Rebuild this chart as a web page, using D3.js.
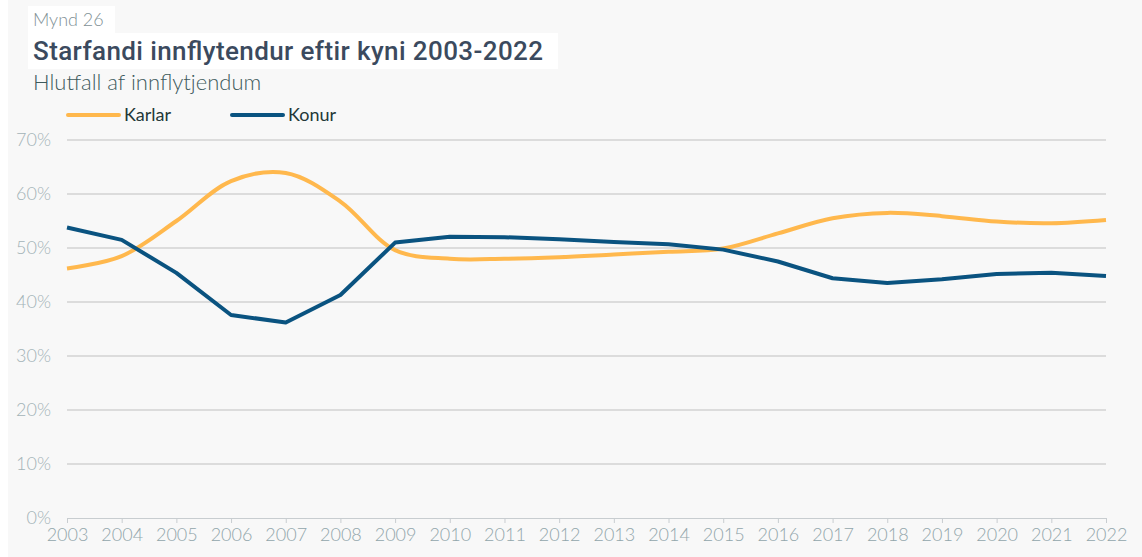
<!DOCTYPE html>
<html>
<head>
<meta charset="utf-8">
<script src="https://cdn.jsdelivr.net/npm/d3@7"></script>
<style>
  body { margin: 0; background: #f8f8f8; }
  svg { display: block; }
</style>
</head>
<body>
<svg id="chart"></svg>
<script>
// gögn lesin af myndinni
const years = [2003, 2004, 2005, 2006, 2007, 2008, 2009, 2010, 2011, 2012,
               2013, 2014, 2015, 2016, 2017, 2018, 2019, 2020, 2021, 2022];
const karlar = [46.2, 48.5, 55.0, 62.4, 63.9, 58.6, 49.6, 48.0, 48.0, 48.3,
                48.8, 49.3, 49.9, 52.7, 55.5, 56.5, 55.9, 54.9, 54.6, 55.2];
const konur = [53.8, 51.5, 45.4, 37.6, 36.2, 41.3, 51.0, 52.1, 52.0, 51.6,
               51.1, 50.7, 49.7, 47.5, 44.4, 43.5, 44.2, 45.2, 45.4, 44.8];
const yTicks = [0, 10, 20, 30, 40, 50, 60, 70];

const W = 1142, H = 557;
const margin = {top: 140, right: 36, bottom: 39, left: 67};
const width = W - margin.left - margin.right,
      height = H - margin.top - margin.bottom;

const root = d3.select("#chart").attr("width", W).attr("height", H);

// ljós bakgrunnur og hvítir reitir bak við titla
root.append("rect").attr("x", 0).attr("y", 0).attr("width", 8).attr("height", H).attr("fill", "#fff");
root.append("rect").attr("x", 28).attr("y", 6).attr("width", 87).attr("height", 27).attr("fill", "#fff");
root.append("rect").attr("x", 28).attr("y", 33).attr("width", 530).attr("height", 36).attr("fill", "#fff");

root.append("text").attr("x", 33).attr("y", 26)
    .style("font-family", "Lato").style("font-weight", 300).style("font-size", "18px")
    .attr("fill", "#7f9196").text("Mynd 26");
root.append("text").attr("x", 33).attr("y", 60)
    .style("font-family", "Roboto").style("font-weight", 500).style("font-size", "26px")
    .attr("textLength", 510).attr("lengthAdjust", "spacing")
    .attr("fill", "#3b4a5e").text("Starfandi innflytendur eftir kyni 2003-2022");
root.append("text").attr("x", 33).attr("y", 90)
    .style("font-family", "Lato").style("font-weight", 300).style("font-size", "22px")
    .attr("fill", "#3e5a5c").text("Hlutfall af innflytjendum");

const svg = root.append("g").attr("transform", `translate(${margin.left},${margin.top})`);

const x = d3.scaleLinear().domain([2003, 2022]).range([0, width]);
const y = d3.scaleLinear().domain([0, 70]).range([height, 0]);

// gridlínur
svg.append("g")
    .selectAll("line")
    .data(yTicks.filter(d => d > 0))
    .join("line")
      .attr("x1", 0).attr("x2", width)
      .attr("y1", d => y(d)).attr("y2", d => y(d))
      .attr("stroke", "#dcdcdc").attr("stroke-width", 2);

const yAxis = svg.append("g")
    .call(d3.axisLeft(y).tickValues(yTicks).tickSize(0).tickPadding(16).tickFormat(d => d + "%"));
yAxis.select(".domain").remove();
yAxis.selectAll("text")
    .style("font-family", "Lato").style("font-weight", 300).style("font-size", "18px")
    .attr("fill", "#a3b3b7");

const xAxis = svg.append("g")
    .attr("transform", `translate(0,${height})`)
    .call(d3.axisBottom(x).tickValues(years).tickFormat(d3.format("d")).tickSize(5).tickPadding(5));
xAxis.select(".domain").attr("stroke", "#c8cdd0");
xAxis.selectAll(".tick line").attr("stroke", "#c8cdd0");
xAxis.selectAll("text")
    .style("font-family", "Lato").style("font-weight", 300).style("font-size", "18px")
    .attr("fill", "#92a6ab");

const lineSmooth = d3.line()
    .x((d, i) => x(years[i]))
    .y(d => y(d))
    .curve(d3.curveCatmullRom.alpha(0.5));

const lineStraight = d3.line()
    .x((d, i) => x(years[i]))
    .y(d => y(d));

svg.append("path").datum(karlar)
    .attr("d", lineSmooth)
    .attr("fill", "none").attr("stroke", "#ffb84d").attr("stroke-width", 4);

svg.append("path").datum(konur)
    .attr("d", lineStraight)
    .attr("fill", "none").attr("stroke", "#0a5380").attr("stroke-width", 4)
    .attr("stroke-linejoin", "round");

// skýringar
const legend = [
  {name: "Karlar", color: "#ffb84d", x: 68},
  {name: "Konur", color: "#0a5380", x: 232}
];
const lg = root.append("g").selectAll("g").data(legend).join("g")
    .attr("transform", d => `translate(${d.x},115)`);
lg.append("line").attr("x1", 0).attr("x2", 51).attr("y1", 0).attr("y2", 0)
    .attr("stroke", d => d.color).attr("stroke-width", 4).attr("stroke-linecap", "round");
lg.append("text").attr("x", 56).attr("y", 6)
    .style("font-family", "Lato").style("font-size", "18px")
    .attr("fill", "#243838").text(d => d.name);
</script>
</body>
</html>
